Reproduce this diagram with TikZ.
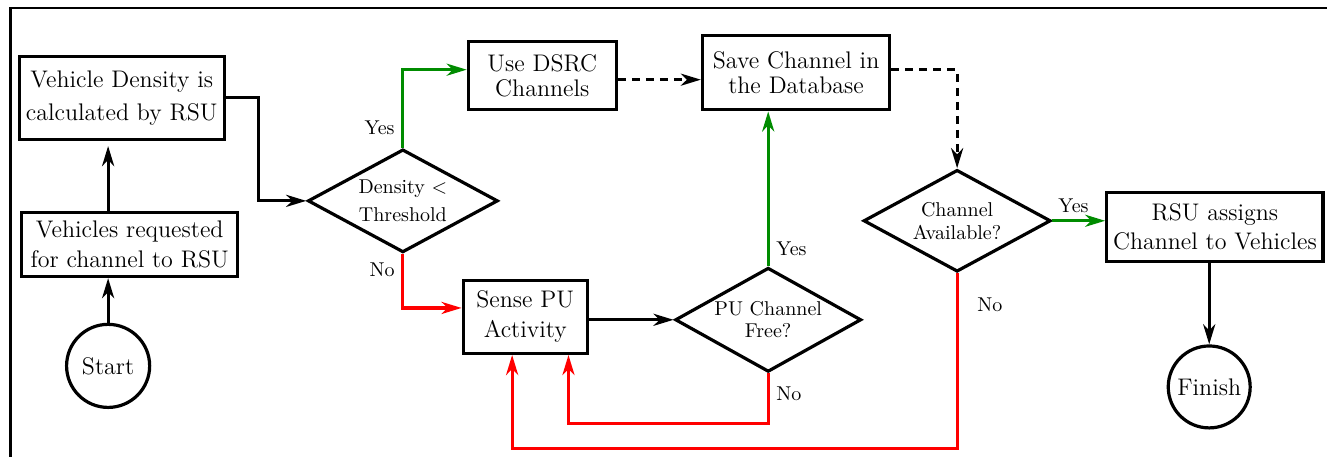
\documentclass[tikz,border=0pt]{standalone}
\usepackage{tikz}
\usetikzlibrary{shapes.geometric,arrows.meta}
\definecolor{yesgreen}{RGB}{0,140,0}

\begin{document}
\begin{tikzpicture}[
		>={Stealth[length=10pt,width=6pt,inset=3pt]},
		block/.style={draw, line width=1.6pt, align=center, font=\large, inner sep=2pt},
		decision/.style={draw, diamond, shape aspect=2, line width=1.6pt, align=center, inner sep=0pt},
		terminal/.style={draw, circle, line width=1.6pt, font=\large, minimum size=1.46cm, inner sep=0pt},
		flow/.style={->, line width=1.6pt},
		dashflow/.style={flow, dash pattern=on 4pt off 3pt},
		yesflow/.style={flow, draw=yesgreen},
		noflow/.style={flow, draw=red},
		lbl/.style={font=\normalsize, text=black}
	]
		%%%%% START %%%%%
		
		\useasboundingbox (0, 0) rectangle (23.32, 8.03);
		\draw[line width=1.4pt] (23.5, 7.89) -- (0.18, 7.89) -- (0.18, -0.2);
		
		\node[terminal] (start) at (1.90, 1.60) {Start};
		\node[block, minimum width=3.8cm, minimum height=1.12cm] (req) at (2.28, 3.73) {Vehicles requested\\[1pt] for channel to RSU};
		\node[block, minimum width=3.6cm, minimum height=1.46cm] (dens) at (2.14, 6.31) {Vehicle Density is\\[2.5pt] calculated by RSU};
		
		\node[decision, minimum width=3.34cm, minimum height=1.81cm] (thr) at (7.08, 4.50) {Density $<$\\[2pt] Threshold};
		\node[block, minimum width=2.6cm, minimum height=1.2cm] (dsrc) at (9.53, 6.70) {Use DSRC\\[-1.5pt] Channels};
		\node[block, minimum width=3.29cm, minimum height=1.3cm] (save) at (13.99, 6.75) {Save Channel in\\[-1.5pt] the Database};
		\node[block, minimum width=2.18cm, minimum height=1.28cm] (sense) at (9.23, 2.46) {Sense PU\\[1pt] Activity};
		\node[decision, minimum width=3.27cm, minimum height=1.83cm] (free) at (13.50, 2.41) {PU Channel\\[-1pt] Free?};
		\node[decision, minimum width=3.29cm, minimum height=1.79cm] (avail) at (16.82, 4.15) {Channel\\[-0.5pt] Available?};
		\node[block, minimum width=3.8cm, minimum height=1.21cm] (assign) at (21.35, 4.04) {RSU assigns\\[0.5pt] Channel to Vehicles};
		\node[terminal, minimum size=1.44cm] (finish) at (21.25, 1.23) {Finish};
		
		\draw[flow] (start.north) -- (start.north |- req.south);
		\draw[flow, shorten >=2.5pt] (req.north -| start) -- (dens.south -| start);
		\draw[flow] (dens.east) -- ++(0.58, 0) |- (thr.west);
		
		\draw[yesflow] (thr.north) |- node[lbl, left, pos=0.13] (yes1) {Yes} ([yshift=3pt]dsrc.west);
		\draw[noflow] (thr.south) |- node[lbl, left, pos=0.15] (no1) {No} ([yshift=4.5pt]sense.west);
		
		\draw[dashflow] ([yshift=-2pt]dsrc.east) -- ([yshift=-2pt]dsrc.east -| save.west);
		\draw[dashflow] ([yshift=1.5pt]save.east) -| (avail.north);
		
		\draw[flow] (sense.east |- free.west) -- (free.west);
		\draw[yesflow] (free.north) -- node[lbl, right, pos=0.11] (yes2) {Yes} (free.north |- save.south);
		\draw[noflow] (free.south) -- node[lbl, right, pos=0.4] (no2) {No} ++(0, -0.88) -| ([xshift=0.76cm]sense.south);
		
		\draw[noflow] (avail.south) -- node[lbl, right=6pt, pos=0.18] (no3) {No} ++(0, -3.08) -| ([xshift=-0.23cm]sense.south);
		\draw[yesflow] (avail.east) -- node[lbl, above, pos=0.4] (yes3) {Yes} (avail.east -| assign.west);
		\draw[flow] (assign.south -| finish) -- (finish.north);
		
		%%%%% END %%%%%
	\end{tikzpicture}
\end{document}
